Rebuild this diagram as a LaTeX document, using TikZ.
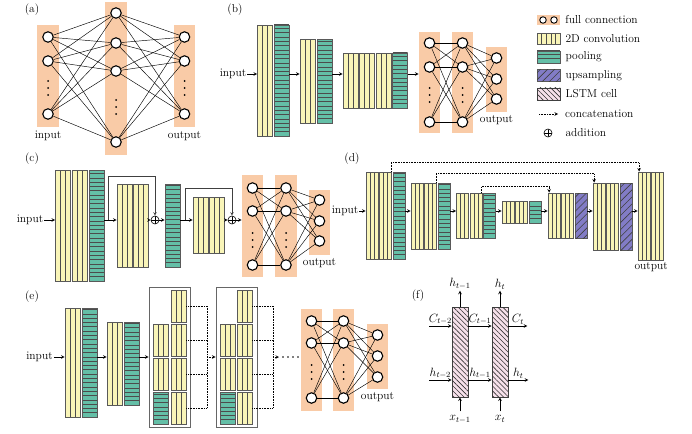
\documentclass[tikz,border=0pt]{standalone}
\usepackage{fontspec}
\usepackage{amsmath}
\usepackage{xcolor}
\usepackage{tikz}
\usetikzlibrary{shapes,arrows,positioning,calc,patterns.meta}

\definecolor{fcorange}{RGB}{249,203,167}
\definecolor{convyellow}{RGB}{249,245,184}
\definecolor{poolteal}{RGB}{100,191,167}
\definecolor{upviolet}{RGB}{130,124,198}
\definecolor{lstmpink}{RGB}{246,224,234}

\begin{document}
\begin{tikzpicture}[x=1pt, y=-1pt, >=stealth,
    every node/.style={font=\fontsize{11.5}{13}\selectfont, inner sep=1pt},
    fclayer/.style={fill=fcorange, minimum width=21.5pt, inner sep=0pt},
    neuron/.style={circle, draw, line width=1.1pt, fill=white, minimum size=10.5pt, inner sep=0pt},
    conn/.style={line width=0.45pt},
    stripe/.style={black!70, line width=0.6pt},
    conv/.style={draw=black!65, line width=0.7pt, fill=convyellow, minimum width=15pt, inner sep=0pt,
        path picture={\foreach \k in {1,...,5}
            \draw[stripe] ($(path picture bounding box.south west)!\k/#1!(path picture bounding box.south east)$)
                -- ($(path picture bounding box.north west)!\k/#1!(path picture bounding box.north east)$);}},
    conv/.default=3,
    pool/.style={draw=black!65, line width=0.7pt, fill=poolteal, minimum width=15pt, inner sep=0pt,
        path picture={\foreach \k in {1,...,30}
            \draw[stripe] ([yshift=\k*4.3pt]path picture bounding box.south west)
                -- ([yshift=\k*4.3pt]path picture bounding box.south east);}},
    upsamp/.style={draw=black!65, line width=0.7pt, fill=upviolet, minimum width=12pt, inner sep=0pt,
        postaction={pattern={Lines[angle=45, distance=5pt, line width=0.6pt]}, pattern color=black!75}},
    lstm/.style={draw=black!75, line width=0.7pt, fill=lstmpink, minimum width=16pt, inner sep=0pt,
        postaction={pattern={Lines[angle=-45, distance=3.5pt, line width=0.6pt]}, pattern color=black!80}},
    denseframe/.style={draw=black!60, line width=0.8pt, inner sep=0pt},
    addop/.style={circle, draw, line width=0.6pt, minimum size=8pt, inner sep=0pt,
        path picture={\draw[line width=0.6pt] (path picture bounding box.north) -- (path picture bounding box.south)
            (path picture bounding box.west) -- (path picture bounding box.east);}},
    flowarr/.style={->, line width=0.6pt},
    skiparr/.style={->, line width=0.6pt, black!75},
    concat/.style={densely dotted, line width=0.6pt}]

    \useasboundingbox (0,0) rectangle (692,433);

    % Panel tags
    \node (a-tag) at (32,10) {(a)};
    \node (b-tag) at (235,10) {(b)};
    \node (c-tag) at (32,159) {(c)};
    \node (d-tag) at (352,159) {(d)};
    \node (e-tag) at (32,297) {(e)};
    \node (f-tag) at (418,296) {(f)};

    % (a) fully connected
    \node[fclayer, minimum height=102pt] (a-l1) at (48,76) {};
    \node[fclayer, minimum height=153pt] (a-l2) at (116,78.5) {};
    \node[fclayer, minimum height=102pt] (a-l3) at (184.5,76) {};
    \foreach \n/\y in {1/37,2/61,3/114} {
        \node[neuron] (a-i\n) at (48,\y) {};
        \node[neuron] (a-o\n) at (184.5,\y) {};
    }
    \foreach \n/\y in {1/13,2/43,3/71,4/142}
        \node[neuron] (a-h\n) at (116,\y) {};
    \foreach \x/\y in {48/88,116/107,184.5/88}
        \foreach \d in {-7,0,7}
            \fill (\x,\y+\d) circle (1pt);
    \foreach \i in {1,2,3}
        \foreach \j in {1,...,4} {
            \draw[conn] (a-i\i) -- (a-h\j);
            \draw[conn] (a-h\j) -- (a-o\i);
        }
    \node[below=3pt of a-l1] {input};
    \node[below=3pt of a-l3] {output};

    % (b) convolutional network
    \coordinate (b-row) at (0,74);
    \node (b-in) at (233,74) {input};
    \node[conv, minimum height=111pt] (b-c1) at (265,80.5) {};
    \node[pool, minimum height=111pt] (b-p1) at (281.5,80.5) {};
    \node[conv, minimum height=84pt] (b-c2) at (307.5,81) {};
    \node[pool, minimum height=84pt] (b-p2) at (324.5,81) {};
    \foreach \n/\x in {a/350.5,b/367,c/383.5}
        \node[conv, minimum height=55pt] (b-c3\n) at (\x,80.5) {};
    \node[pool, minimum height=55pt] (b-p3) at (400,80.5) {};
    \node[fclayer, minimum height=101pt] (b-l1) at (429.5,82.5) {};
    \node[fclayer, minimum height=101pt] (b-l2) at (462.5,82.5) {};
    \node[fclayer, minimum height=65pt] (b-l3) at (496.5,79.5) {};
    \foreach \n/\y in {1/43,2/67,3/122} {
        \node[neuron] (b-u\n) at (429.5,\y) {};
        \node[neuron] (b-v\n) at (462.5,\y) {};
    }
    \foreach \n/\y in {1/58,2/79,3/99}
        \node[neuron] (b-o\n) at (496.5,\y) {};
    \foreach \x in {429.5,462.5}
        \foreach \d in {-7,0,7}
            \fill (\x,95+\d) circle (1pt);
    \foreach \i in {1,2,3}
        \foreach \j in {1,2,3} {
            \draw[conn] (b-u\i) -- (b-v\j);
            \draw[conn] (b-v\i) -- (b-o\j);
        }
    \draw[flowarr] (b-in) -- (b-c1.west |- b-row);
    \draw[flowarr] (b-p1.east |- b-row) -- (b-c2.west |- b-row);
    \draw[flowarr] (b-p2.east |- b-row) -- (b-c3a.west |- b-row);
    \draw[flowarr] (b-p3.east |- b-row) -- (b-l1.west |- b-row);
    \node[below=2pt of b-l3] {output};

    % (c) residual network
    \coordinate (c-row) at (0,220);
    \node (c-in) at (30,220) {input};
    \node[conv, minimum height=111pt] (c-c1) at (63,225.5) {};
    \node[conv, minimum height=111pt] (c-c2) at (79.5,225.5) {};
    \node[pool, minimum height=111pt] (c-p1) at (96.5,225.5) {};
    \node[conv, minimum height=83pt] (c-c3) at (124.5,225.5) {};
    \node[conv, minimum height=83pt] (c-c4) at (140.5,225.5) {};
    \node[addop] (c-add1) at (155,220) {};
    \node[pool, minimum height=83pt] (c-p2) at (172.5,225.5) {};
    \node[conv, minimum height=56pt] (c-c5) at (200.5,225) {};
    \node[conv, minimum height=56pt] (c-c6) at (217,225) {};
    \node[addop] (c-add2) at (232,220) {};
    \node[fclayer, minimum height=102pt] (c-l1) at (252.5,226) {};
    \node[fclayer, minimum height=102pt] (c-l2) at (286,226) {};
    \node[fclayer, minimum height=65pt] (c-l3) at (319.5,222.5) {};
    \foreach \n/\y in {1/188,2/211,3/265} {
        \node[neuron] (c-u\n) at (252.5,\y) {};
        \node[neuron] (c-v\n) at (286,\y) {};
    }
    \foreach \n/\y in {1/200,2/221,3/241}
        \node[neuron] (c-o\n) at (319.5,\y) {};
    \foreach \x in {252.5,286}
        \foreach \d in {-7,0,7}
            \fill (\x,240+\d) circle (1pt);
    \foreach \i in {1,2,3}
        \foreach \j in {1,2,3} {
            \draw[conn] (c-u\i) -- (c-v\j);
            \draw[conn] (c-v\i) -- (c-o\j);
        }
    \draw[flowarr] (c-in) -- (c-c1.west |- c-row);
    \draw[flowarr] (c-p1.east |- c-row) -- (c-c3.west |- c-row);
    \draw[flowarr] (c-c4.east |- c-row) -- (c-add1);
    \draw[flowarr] (c-add1) -- (c-p2.west |- c-row);
    \draw[flowarr] (c-p2.east |- c-row) -- (c-c5.west |- c-row);
    \draw[flowarr] (c-c6.east |- c-row) -- (c-add2);
    \draw[flowarr] (c-add2) -- (c-l1.west |- c-row);
    % shortcuts
    \draw[skiparr] ($(c-p1.east |- c-row)+(4,0)$) -- ++(0,-44) -| (c-add1);
    \draw[skiparr] ($(c-p2.east |- c-row)+(5,0)$) -- ++(0,-32) -| (c-add2);
    \node[below=2pt of c-l3] {output};

    % (d) encoder-decoder
    \coordinate (d-row) at (0,211);
    \node (d-in) at (345,211) {input};
    \foreach \l/\x/\y/\h in {1/372/215.5/87, 2/417/216/66, 3/462.5/215.5/45, 4/508/212/22} {
        \node[conv, minimum width=12pt, minimum height=\h] (d-a\l) at (\x,\y) {};
        \node[conv, minimum width=12pt, minimum height=\h, right=0.8pt of d-a\l] (d-b\l) {};
        \node[pool, minimum width=12pt, minimum height=\h, right=0.8pt of d-b\l] (d-p\l) {};
    }
    \foreach \l/\x/\y/\h in {5/554/215.5/45, 6/599/216.5/67} {
        \node[conv, minimum width=12pt, minimum height=\h] (d-a\l) at (\x,\y) {};
        \node[conv, minimum width=12pt, minimum height=\h, right=0.8pt of d-a\l] (d-b\l) {};
        \node[upsamp, minimum height=\h, right=0.8pt of d-b\l] (d-u\l) {};
    }
    \node[conv, minimum width=12pt, minimum height=88] (d-a7) at (644,216) {};
    \node[conv, minimum width=12pt, minimum height=88, right=0.8pt of d-a7] (d-b7) {};
    \draw[flowarr] (d-in) -- (d-a1.west |- d-row);
    \foreach \l/\m in {1/2,2/3,3/4,4/5}
        \draw[flowarr] (d-p\l.east |- d-row) -- (d-a\m.west |- d-row);
    \draw[flowarr] (d-u5.east |- d-row) -- (d-a6.west |- d-row);
    \draw[flowarr] (d-u6.east |- d-row) -- (d-a7.west |- d-row);
    % skip concatenations
    \draw[concat, ->] ([xshift=-1pt]d-b1.north east) -- ++(0,-9) -| ([xshift=1.5pt]d-a7.north west);
    \draw[concat, ->] ([xshift=-1pt]d-b2.north east) -- ++(0,-9) -| ([xshift=1.5pt]d-a6.north west);
    \draw[concat, ->] ([xshift=-1pt]d-b3.north east) -- ++(0,-6) -| ([xshift=1.5pt]d-a5.north west);
    \node[below=1pt of d-b7.south west] {output};

    % (e) dense network
    \coordinate (e-row) at (0,357);
    \node (e-in) at (39.5,357) {input};
    \node[conv, minimum height=109pt] (e-c1) at (72.5,362.5) {};
    \node[pool, minimum height=109pt] (e-p1) at (89.5,362.5) {};
    \node[conv, minimum height=83pt] (e-c2) at (114.5,363.5) {};
    \node[pool, minimum height=83pt] (e-p2) at (131.5,363.5) {};
    \node[denseframe, minimum width=41pt, minimum height=140pt] (e-f1) at (169.5,357) {};
    \node[denseframe, minimum width=41pt, minimum height=140pt] (e-f2) at (236.5,357) {};
    \foreach \f/\lx/\rx in {1/161/178.5, 2/228/244.5} {
        \foreach \k/\y in {1/306,2/340,3/374,4/408}
            \node[conv, minimum height=32pt] (e-r\f\k) at (\rx,\y) {};
        \node[conv, minimum height=32pt] (e-s\f2) at (\lx,340) {};
        \node[conv, minimum height=32pt] (e-s\f3) at (\lx,374) {};
        \node[pool, minimum height=32pt] (e-s\f4) at (\lx,408) {};
    }
    \coordinate (e-j1) at (207,357);
    \coordinate (e-j2) at (273,357);
    \foreach \f in {1,2} {
        \foreach \k in {1,...,4}
            \draw[concat] (e-r\f\k.east) -- (e-r\f\k.east -| e-j\f);
        \draw[concat] (e-r\f1.east -| e-j\f) -- (e-r\f4.east -| e-j\f);
    }
    \draw[concat, ->] (e-j1) -- (e-f2);
    \draw[concat, ->] (e-j2) -- ++(6,0);
    \foreach \x in {283,288,293,298}
        \fill (\x,357) circle (0.8pt);
    \node[fclayer, minimum height=102pt] (e-l1) at (311.5,360) {};
    \node[fclayer, minimum height=102pt] (e-l2) at (343.5,360) {};
    \node[fclayer, minimum height=65pt] (e-l3) at (377.5,356.5) {};
    \foreach \n/\y in {1/321,2/343,3/398} {
        \node[neuron] (e-u\n) at (311.5,\y) {};
        \node[neuron] (e-v\n) at (343.5,\y) {};
    }
    \foreach \n/\y in {1/335,2/356,3/377}
        \node[neuron] (e-o\n) at (377.5,\y) {};
    \foreach \x in {311.5,343.5}
        \foreach \d in {-7,0,7}
            \fill (\x,372+\d) circle (1pt);
    \foreach \i in {1,2,3}
        \foreach \j in {1,2,3} {
            \draw[conn] (e-u\i) -- (e-v\j);
            \draw[conn] (e-v\i) -- (e-o\j);
        }
    \draw[flowarr] (e-in) -- (e-c1.west |- e-row);
    \draw[flowarr] (e-p1.east |- e-row) -- (e-c2.west |- e-row);
    \draw[flowarr] (e-p2.east |- e-row) -- (e-f1);
    \node[below=2pt of e-l3] {output};

    % (f) LSTM cells
    \node[lstm, minimum height=90pt] (f-m1) at (460,352) {};
    \node[lstm, minimum height=90pt] (f-m2) at (500,352) {};
    \coordinate (f-crow) at (0,326);
    \coordinate (f-hrow) at (0,380);
    \coordinate (f-c0) at (429,326);
    \coordinate (f-h0) at (429,380);
    \draw[flowarr] (f-c0) -- (f-m1.west |- f-crow) node[midway, above] {$C_{t-2}$};
    \draw[flowarr] (f-h0) -- (f-m1.west |- f-hrow) node[midway, above] {$h_{t-2}$};
    \draw[flowarr] (f-m1.east |- f-crow) -- (f-m2.west |- f-crow) node[midway, above] {$C_{t-1}$};
    \draw[flowarr] (f-m1.east |- f-hrow) -- (f-m2.west |- f-hrow) node[midway, above] {$h_{t-1}$};
    \draw[flowarr] (f-m2.east |- f-crow) -- ++(19,0) node[midway, above] {$C_t$};
    \draw[flowarr] (f-m2.east |- f-hrow) -- ++(20,0) node[midway, above] {$h_t$};
    \draw[flowarr] (f-m1.north) -- ++(0,-16) node[above] {$h_{t-1}$};
    \draw[flowarr] (f-m2.north) -- ++(0,-16) node[above] {$h_t$};
    \draw[flowarr] ([yshift=-14pt]f-m1.south) node[below=3pt] {$x_{t-1}$} -- (f-m1.south);
    \draw[flowarr] ([yshift=-14pt]f-m2.south) node[below=3pt] {$x_t$} -- (f-m2.south);

    % Legend
    \node[fclayer, minimum width=23pt, minimum height=10pt] (k-fc) at (548.5,20) {};
    \node[neuron, minimum size=6.5pt, line width=0.9pt] (k-fc1) at (543,20) {};
    \node[neuron, minimum size=6.5pt, line width=0.9pt] (k-fc2) at (554,20) {};
    \node[conv=5, minimum width=23pt, minimum height=11pt] (k-conv) at (548.5,38.5) {};
    \node[pool, minimum width=23pt, minimum height=12pt] (k-pool) at (548.5,57) {};
    \node[upsamp, minimum width=23pt, minimum height=12pt] (k-up) at (548.5,75.5) {};
    \node[lstm, minimum width=23pt, minimum height=12pt] (k-lstm) at (548.5,94) {};
    \coordinate (k-cat) at (539,114);
    \draw[concat, ->] (k-cat) -- ++(19,0) coordinate (k-cat2);
    \node[addop] (k-add) at (548,133) {};
    \node[right=4pt of k-fc] {full connection};
    \node[right=4pt of k-conv] {2D convolution};
    \node[right=4pt of k-pool] {pooling};
    \node[right=4pt of k-up] {upsampling};
    \node[right=4pt of k-lstm] {LSTM cell};
    \node[right=6pt of k-cat2] {concatenation};
    \node[right=12pt of k-add] {addition};
\end{tikzpicture}
\end{document}
